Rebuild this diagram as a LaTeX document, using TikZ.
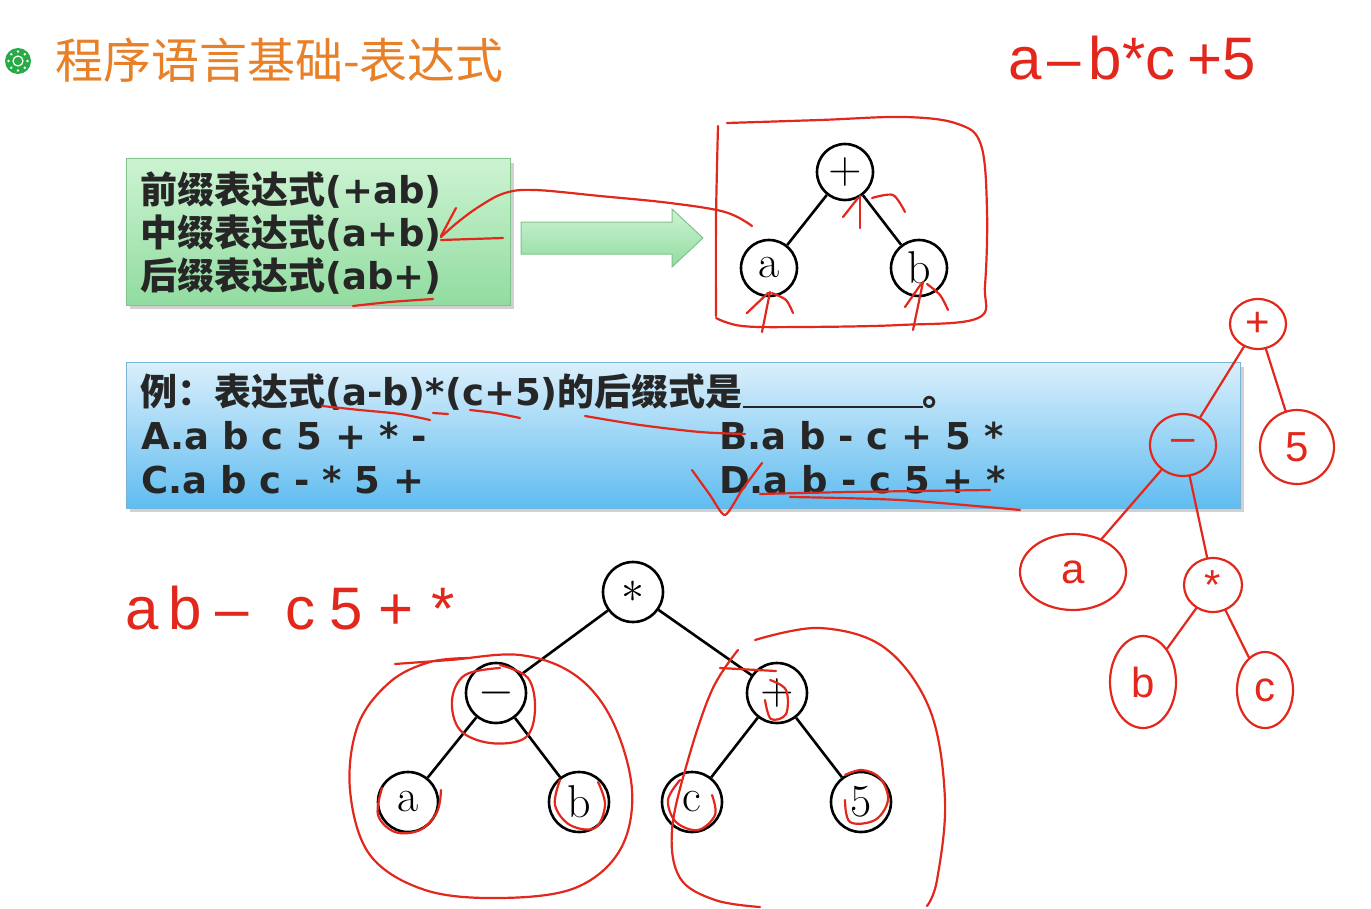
\RequirePackage{fix-cm}
\documentclass[tikz,border=0pt]{standalone}
\usepackage{fontspec}
\newfontfamily\zh{Noto Sans CJK SC}
\newfontfamily\vb{DejaVu Sans}
\newfontfamily\hw{Liberation Sans}
\usetikzlibrary{shapes.geometric}
\definecolor{hred}{RGB}{226,40,28}
\definecolor{ttl}{RGB}{232,128,40}
\definecolor{txt}{RGB}{38,38,38}
\definecolor{icongreen}{RGB}{40,170,70}
\definecolor{gtop}{RGB}{205,243,210}
\definecolor{gbot}{RGB}{145,220,160}
\definecolor{gbord}{RGB}{130,195,140}
\definecolor{btop}{RGB}{218,239,251}
\definecolor{bbot}{RGB}{95,188,240}
\definecolor{bbord}{RGB}{120,178,215}
\begin{document}
\begin{tikzpicture}[x=1pt,y=-1pt,
  hand/.style={draw=hred, line width=2.2pt, line cap=round, line join=round},
  tn/.style={circle, draw=black, line width=2.6pt, fill=white, inner sep=0pt, font=\fontsize{46}{46}\selectfont},
  rn/.style={ellipse, draw=hred, line width=2.2pt, inner sep=0pt, text=hred, font=\hw\fontsize{42}{42}\selectfont},
  tedge/.style={draw=black, line width=2.6pt},
  redge/.style={draw=hred, line width=2.2pt, line cap=round},
  gtext/.style={anchor=west, text=txt, font=\vb\bfseries\fontsize{37}{37}\selectfont, inner sep=0pt},
  handtext/.style={anchor=west, text=hred, inner sep=0pt, font=\hw\fontsize{60}{60}\selectfont}
]
\useasboundingbox (0,0) rectangle (1371,908);
\fill[white] (0,0) rectangle (1371,908);

% title
\fill[icongreen] (18,61) circle (13);
\draw[white, line width=1.2pt] (18,61) circle (5);
\foreach \a in {0,45,...,315} \fill[white] (18,61) ++(\a:9.5) circle (1.4);
\node[anchor=west, inner sep=0pt, text=ttl, font=\zh\fontsize{48}{48}\selectfont] (title) at (55,60) {程序语言基础-表达式};

% green box
\fill[black!18] (130,163) rectangle (514,309);
\node[anchor=north west, draw=gbord, line width=1pt, top color=gtop, bottom color=gbot,
      minimum width=384pt, minimum height=147pt, inner sep=0pt] (gbox) at (126,158) {};
\node[gtext] (g1) at (140,190) {{\zh 前缀表达式}(+ab)};
\node[gtext] (g2) at (140,233) {{\zh 中缀表达式}(a+b)};
\node[gtext] (g3) at (140,276) {{\zh 后缀表达式}(ab+)};

% green arrow
\draw[draw=gbord, line width=1pt, top color=gtop, bottom color=gbot]
  (521,222) -- (672,222) -- (672,209) -- (703,238) -- (672,267) -- (672,254) -- (521,254) -- cycle;

% top tree
\node[tn, minimum size=56pt] (tp) at (845,172) {$+$};
\node[tn, minimum size=56pt] (ta) at (769,268) {a};
\node[tn, minimum size=56pt] (tb) at (919,268) {b};
\draw[tedge] (tp) -- (ta);
\draw[tedge] (tp) -- (tb);

% blue box
\fill[black!18] (130,367) rectangle (1244,512);
\node[anchor=north west, draw=bbord, line width=1pt, top color=btop, bottom color=bbot,
      minimum width=1114pt, minimum height=146pt, inner sep=0pt] (bbox) at (126,362) {};
\node[gtext] (q0) at (140,392) {{\zh 例：表达式}(a-b)*(c+5){\zh 的后缀式是}\rule[-3pt]{180pt}{2.5pt}{\zh 。}};
\node[gtext] (qa) at (141,436) {A.a b c 5 + * -};
\node[gtext] (qb) at (719,436) {B.a b - c + 5 *};
\node[gtext] (qc) at (141,480) {C.a b c - * 5 +};
\node[gtext] (qd) at (719,480) {D.a b - c 5 + *};

% bottom tree
\node[tn, minimum size=60pt] (bs) at (633,592) {$*$};
\node[tn, minimum size=60pt] (bm) at (496,693) {$-$};
\node[tn, minimum size=60pt] (bp) at (777,693) {$+$};
\node[tn, minimum size=60pt] (ba) at (408,802) {a};
\node[tn, minimum size=60pt] (bb) at (579,802) {b};
\node[tn, minimum size=60pt] (bc) at (692,802) {c};
\node[tn, minimum size=60pt] (b5) at (861,802) {5};
\draw[tedge] (bs) -- (bm);
\draw[tedge] (bs) -- (bp);
\draw[tedge] (bm) -- (ba);
\draw[tedge] (bm) -- (bb);
\draw[tedge] (bp) -- (bc);
\draw[tedge] (bp) -- (b5);

% ---------- red annotations ----------
% box around top tree
\draw[hand] plot[smooth, tension=0.6] coordinates {(727,123) (820,120) (905,117) (958,124) (981,145) (987,210) (985,285) (978,318) (900,325) (800,327) (742,326) (716,318)};
\draw[hand] plot[smooth, tension=0.6] coordinates {(718,126) (716,220) (716,316)};
% arrow to infix
\draw[hand] plot[smooth, tension=0.6] coordinates {(752,226) (725,212) (670,203) (600,196) (535,190) (505,193) (480,206) (458,222) (441,237)};
\draw[hand] (456,208) -- (441,236);
\draw[hand] (441,240) -- (503,238);
% underline ab+
\draw[hand] plot[smooth] coordinates {(353,306) (390,302) (433,299)};
% small arrows in top tree
\draw[hand] (762,332) -- (770,292);
\draw[hand] (747,313) -- (768,293);
\draw[hand] plot[smooth] coordinates {(772,293) (786,300) (793,313)};
\draw[hand] (913,330) -- (923,282);
\draw[hand] (905,307) -- (921,284);
\draw[hand] plot[smooth] coordinates {(927,284) (940,295) (948,310)};
\draw[hand] (860,228) -- (860,196);
\draw[hand] (843,217) -- (858,198);
\draw[hand] plot[smooth] coordinates {(872,198) (893,195) (905,212)};

% handwriting top right
\node[handtext] (hw1) at (1008,58) {a\hspace{6pt}–\hspace{8pt}b*c\hspace{12pt}+5};

% blue box marks
\draw[hand] plot[smooth] coordinates {(322,406) (360,410) (400,414) (430,420)};
\draw[hand] (433,413) -- (448,414);
\draw[hand] plot[smooth] coordinates {(470,410) (495,413) (520,418)};
\draw[hand] plot[smooth] coordinates {(585,416) (640,425) (700,432) (745,434)};
\draw[hand] plot[smooth, tension=0.4] coordinates {(692,470) (710,495) (725,515) (742,490) (762,463)};
\draw[hand] plot[smooth] coordinates {(760,494) (850,492) (990,490)};
\draw[hand] plot[smooth] coordinates {(790,497) (900,500) (1020,510)};

% right red tree
\node[rn, minimum width=56pt, minimum height=50pt] (rp) at (1258,324) {+};
\node[rn, minimum width=74pt, minimum height=74pt] (r5) at (1297,447) {5};
\node[rn, minimum width=66pt, minimum height=62pt] (rm) at (1183,445) {–};
\node[rn, minimum width=106pt, minimum height=76pt] (ra) at (1073,572) {a};
\node[rn, minimum width=58pt, minimum height=54pt] (rs) at (1213,585) {*};
\node[rn, minimum width=66pt, minimum height=92pt] (rb) at (1143,682) {b};
\node[rn, minimum width=56pt, minimum height=76pt] (rc) at (1265,690) {c};
\draw[redge] (rp) -- (rm);
\draw[redge] (rp) -- (r5);
\draw[redge] (rm) -- (ra);
\draw[redge] (rm) -- (rs);
\draw[redge] (rs) -- (rb);
\draw[redge] (rs) -- (rc);

% handwriting bottom left
\node[handtext] (hw2) at (125,608) {a\hspace{10pt}b\hspace{14pt}–\hspace{36pt}c\hspace{14pt}5\hspace{16pt}+\hspace{18pt}*};

% loops around subtrees
\draw[hand] plot[smooth, tension=0.6] coordinates {(395,664) (450,660) (520,655) (575,675) (612,720) (632,790) (620,850) (575,888) (500,898) (425,890) (370,855) (350,790) (358,725) (390,682) (430,662) (470,658)};
\draw[hand] plot[smooth, tension=0.6] coordinates {(755,640) (820,628) (885,648) (930,710) (945,800) (937,880) (927,906)};
\draw[hand] plot[smooth, tension=0.6] coordinates {(738,650) (712,690) (688,760) (672,830) (680,878) (715,900) (760,907)};
\draw[hand] (720,668) -- (776,671);
% small marks around nodes
\draw[hand] plot[smooth, tension=0.6] coordinates {(500,665) (528,678) (535,710) (525,738) (490,743) (460,730) (452,700) (465,675) (500,668)};
\draw[hand] plot[smooth, tension=0.6] coordinates {(770,680) (786,690) (786,714) (771,719) (765,700)};
\draw[hand] plot[smooth, tension=0.6] coordinates {(382,788) (378,815) (395,832) (420,830) (437,812) (441,790)};
\draw[hand] plot[smooth, tension=0.6] coordinates {(560,780) (555,805) (570,825) (595,828) (605,805) (598,782)};
\draw[hand] plot[smooth, tension=0.6] coordinates {(680,780) (668,800) (676,822) (698,830) (715,815) (712,795)};
\draw[hand] plot[smooth, tension=0.6] coordinates {(845,775) (862,770) (880,778) (888,800) (875,820) (850,822) (845,800)};
\end{tikzpicture}
\end{document}
